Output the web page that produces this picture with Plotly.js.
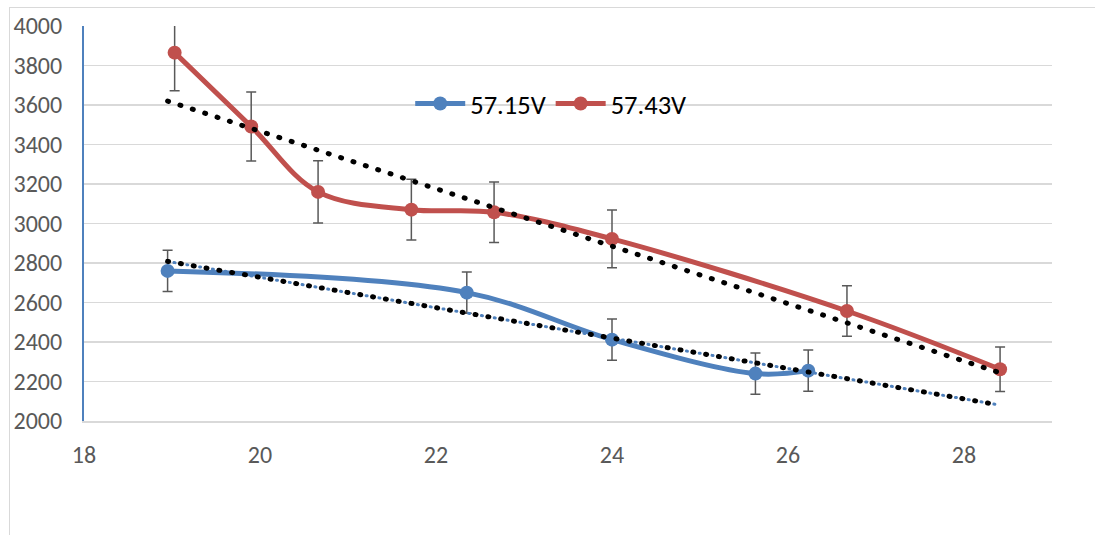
<!DOCTYPE html>
<html>
<head>
<meta charset="utf-8">
<script src="https://cdn.plot.ly/plotly-3.0.1.min.js"></script>
<style>
  html, body { margin: 0; padding: 0; background: #fff; }
  #wrap { position: relative; width: 1095px; height: 535px; overflow: hidden; }
  #chart { position: absolute; left: 0; top: 0; width: 1095px; height: 535px; }
  #frame { position: absolute; left: 9px; top: 7px; width: 1200px; height: 600px;
           border-left: 1.5px solid #d9d9d9; border-top: 1.5px solid #d9d9d9; pointer-events: none; }
  .scatterlayer .js-line { stroke-linecap: round; }
</style>
</head>
<body>
<div id="wrap">
  <div id="chart"></div>
  <div id="frame"></div>
</div>
<script>
// ---- data ----
const seriesNames = ["57.15V", "57.43V"];
const blueX = [18.95, 22.35, 24.0, 25.63, 26.23];
const blueY = [2760, 2650, 2412, 2240, 2255];
const redX = [19.03, 19.9, 20.66, 21.72, 22.66, 24.0, 26.67, 28.41];
const redY = [3865, 3491, 3160, 3070, 3057, 2922, 2557, 2262];
const redErrPercent = 5;
const xTicks = [18, 20, 22, 24, 26, 28];
const yTicks = [2000, 2200, 2400, 2600, 2800, 3000, 3200, 3400, 3600, 3800, 4000];

// ---- helpers ----
function mean(a) { return a.reduce((s, v) => s + v, 0) / a.length; }
function linFit(xs, ys) {
  const mx = mean(xs), my = mean(ys);
  let sxy = 0, sxx = 0;
  for (let i = 0; i < xs.length; i++) { sxy += (xs[i] - mx) * (ys[i] - my); sxx += (xs[i] - mx) ** 2; }
  const b = sxy / sxx;
  return x => my + b * (x - mx);
}
function stdErr(ys) {
  const m = mean(ys);
  const v = ys.reduce((s, y) => s + (y - m) ** 2, 0) / (ys.length - 1);
  return Math.sqrt(v) / Math.sqrt(ys.length);
}

const allX = blueX.concat(redX);
const xMin = Math.min(...allX), xMax = Math.max(...allX);
const fb = linFit(blueX, blueY), fr = linFit(redX, redY);

const BLUE = "#4F81BD", RED = "#C0504D", ERR = "#595959";
const FONT = "Carlito, Lato, 'Open Sans', sans-serif";

const traces = [
  {
    x: blueX, y: blueY, name: seriesNames[0], type: "scatter", mode: "lines+markers",
    line: { color: BLUE, width: 5, shape: "spline", smoothing: 1 },
    marker: { color: BLUE, size: 14 },
    error_y: { type: "constant", value: stdErr(blueY), color: ERR, thickness: 1.5, width: 5 }
  },
  {
    x: redX, y: redY, name: seriesNames[1], type: "scatter", mode: "lines+markers",
    line: { color: RED, width: 5, shape: "spline", smoothing: 1 },
    marker: { color: RED, size: 14 },
    error_y: { type: "percent", value: redErrPercent, color: ERR, thickness: 1.5, width: 5 }
  },
  {
    x: [xMin, xMax], y: [fb(xMin), fb(xMax)], type: "scatter", mode: "lines", showlegend: false, hoverinfo: "skip",
    line: { color: BLUE, width: 3, dash: "1px,5.5px" }
  },
  {
    x: [xMin, xMax], y: [fb(xMin), fb(xMax)], type: "scatter", mode: "lines", showlegend: false, hoverinfo: "skip",
    line: { color: "#000000", width: 5, dash: "1px,12px" }
  },
  {
    x: [xMin, xMax], y: [fr(xMin), fr(xMax)], type: "scatter", mode: "lines", showlegend: false, hoverinfo: "skip",
    line: { color: "#000000", width: 5, dash: "1px,12px" }
  }
];

const layout = {
  width: 1095, height: 535,
  margin: { l: 84, r: 43, t: 26, b: 113.5 },
  paper_bgcolor: "#ffffff", plot_bgcolor: "#ffffff",
  font: { family: FONT, color: "#595959", size: 24 },
  showlegend: true,
  legend: {
    orientation: "h", x: 0.337, y: 0.803, xanchor: "left", yanchor: "middle",
    bgcolor: "rgba(0,0,0,0)", font: { family: FONT, size: 26.5, color: "#000000" },
    itemwidth: 50
  },
  xaxis: {
    range: [18, 29], tickvals: xTicks, ticktext: xTicks.map(String),
    showgrid: false, zeroline: false, showline: true, linecolor: "#d9d9d9", linewidth: 1.5,
    ticks: "", ticklabelstandoff: 12,
    tickfont: { family: FONT, size: 24, color: "#595959" }
  },
  yaxis: {
    range: [2000, 4000], tickvals: yTicks, ticktext: yTicks.map(String),
    showgrid: true, gridcolor: "#d9d9d9", gridwidth: 1.5, zeroline: false,
    showline: true, linecolor: BLUE, linewidth: 2, ticks: "", ticklabelstandoff: 15,
    tickfont: { family: FONT, size: 24, color: "#595959" }
  }
};

Plotly.newPlot("chart", traces, layout, { displayModeBar: false, staticPlot: true });
</script>
</body>
</html>
